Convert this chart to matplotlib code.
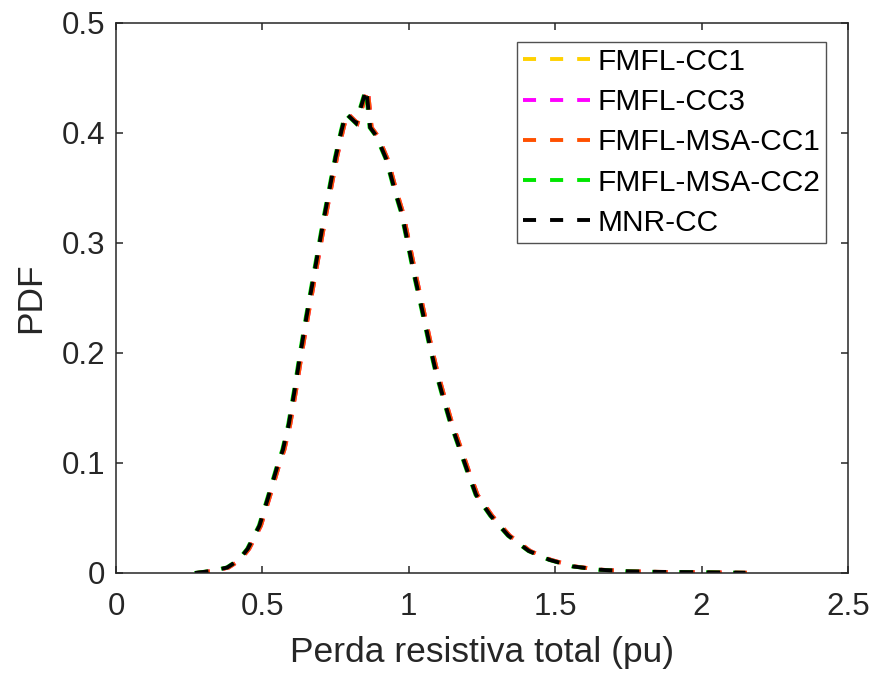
import matplotlib
matplotlib.use("Agg")
import matplotlib.pyplot as plt

plt.rcParams['font.family'] = ['Liberation Sans', 'DejaVu Sans']
plt.rcParams['lines.scale_dashes'] = False

# Total resistive loss (pu) at which each method's PDF was evaluated
perda_fmfl_cc1 = [0.275, 0.335, 0.385, 0.425, 0.455, 0.495, 0.525, 0.555, 0.575, 0.595,
                  0.615, 0.635, 0.655, 0.675, 0.695, 0.715, 0.735, 0.755, 0.775, 0.790,
                  0.825, 0.860, 0.873, 0.895, 0.930, 0.955, 0.980, 1.005, 1.025, 1.050,
                  1.075, 1.095, 1.120, 1.145, 1.175, 1.205, 1.235, 1.285, 1.345, 1.415,
                  1.485, 1.565, 1.655, 1.755, 1.855, 1.955, 2.055, 2.155]
perda_fmfl_cc3 = [0.275, 0.335, 0.385, 0.425, 0.455, 0.495, 0.525, 0.555, 0.575, 0.595,
                  0.615, 0.635, 0.655, 0.675, 0.695, 0.715, 0.735, 0.755, 0.775, 0.790,
                  0.825, 0.860, 0.873, 0.895, 0.930, 0.955, 0.980, 1.005, 1.025, 1.050,
                  1.075, 1.095, 1.120, 1.145, 1.175, 1.205, 1.235, 1.285, 1.345, 1.415,
                  1.485, 1.565, 1.655, 1.755, 1.855, 1.955, 2.055, 2.155]
perda_fmfl_msa_cc1 = [0.275, 0.335, 0.385, 0.425, 0.455, 0.495, 0.525, 0.555, 0.575, 0.595,
                      0.615, 0.635, 0.655, 0.675, 0.695, 0.715, 0.735, 0.755, 0.775, 0.790,
                      0.825, 0.860, 0.873, 0.895, 0.930, 0.955, 0.980, 1.005, 1.025, 1.050,
                      1.075, 1.095, 1.120, 1.145, 1.175, 1.205, 1.235, 1.285, 1.345, 1.415,
                      1.485, 1.565, 1.655, 1.755, 1.855, 1.955, 2.055, 2.155]
perda_fmfl_msa_cc2 = [0.268, 0.328, 0.378, 0.418, 0.448, 0.488, 0.518, 0.548, 0.568, 0.588,
                      0.608, 0.628, 0.648, 0.668, 0.688, 0.708, 0.728, 0.748, 0.768, 0.783,
                      0.818, 0.853, 0.866, 0.888, 0.923, 0.948, 0.973, 0.998, 1.018, 1.043,
                      1.068, 1.088, 1.113, 1.138, 1.168, 1.198, 1.228, 1.278, 1.338, 1.408,
                      1.478, 1.558, 1.648, 1.748, 1.848, 1.948, 2.048, 2.148]
perda_mnr_cc = [0.27, 0.33, 0.38, 0.42, 0.45, 0.49, 0.52, 0.55, 0.57, 0.59,
                0.61, 0.63, 0.65, 0.67, 0.69, 0.71, 0.73, 0.75, 0.77, 0.785,
                0.82, 0.855, 0.868, 0.89, 0.925, 0.95, 0.975, 1.00, 1.02, 1.045,
                1.07, 1.09, 1.115, 1.14, 1.17, 1.20, 1.23, 1.28, 1.34, 1.41,
                1.48, 1.56, 1.65, 1.75, 1.85, 1.95, 2.05, 2.15]

# Estimated PDF values
pdf_fmfl_cc1 = [0.000, 0.002, 0.005, 0.012, 0.022, 0.043, 0.069, 0.096, 0.112, 0.135,
                0.166, 0.200, 0.232, 0.262, 0.292, 0.322, 0.350, 0.378, 0.402, 0.418,
                0.409, 0.440, 0.405, 0.397, 0.375, 0.350, 0.328, 0.296, 0.270, 0.240,
                0.209, 0.186, 0.162, 0.139, 0.116, 0.093, 0.071, 0.052, 0.034, 0.020,
                0.012, 0.006, 0.003, 0.0015, 0.001, 0.0008, 0.0005, 0.0002]
pdf_fmfl_cc3 = [0.000, 0.002, 0.005, 0.012, 0.022, 0.043, 0.069, 0.096, 0.112, 0.135,
                0.166, 0.200, 0.232, 0.262, 0.292, 0.322, 0.350, 0.378, 0.402, 0.418,
                0.409, 0.440, 0.405, 0.397, 0.375, 0.350, 0.328, 0.296, 0.270, 0.240,
                0.209, 0.186, 0.162, 0.139, 0.116, 0.093, 0.071, 0.052, 0.034, 0.020,
                0.012, 0.006, 0.003, 0.0015, 0.001, 0.0008, 0.0005, 0.0002]
pdf_fmfl_msa_cc1 = [0.000, 0.002, 0.005, 0.012, 0.022, 0.043, 0.069, 0.096, 0.112, 0.135,
                    0.166, 0.200, 0.232, 0.262, 0.292, 0.322, 0.350, 0.378, 0.402, 0.418,
                    0.409, 0.440, 0.405, 0.397, 0.375, 0.350, 0.328, 0.296, 0.270, 0.240,
                    0.209, 0.186, 0.162, 0.139, 0.116, 0.093, 0.071, 0.052, 0.034, 0.020,
                    0.012, 0.006, 0.003, 0.0015, 0.001, 0.0008, 0.0005, 0.0002]
pdf_fmfl_msa_cc2 = [0.000, 0.002, 0.005, 0.012, 0.022, 0.043, 0.069, 0.096, 0.112, 0.135,
                    0.166, 0.200, 0.232, 0.262, 0.292, 0.322, 0.350, 0.378, 0.402, 0.418,
                    0.409, 0.440, 0.405, 0.397, 0.375, 0.350, 0.328, 0.296, 0.270, 0.240,
                    0.209, 0.186, 0.162, 0.139, 0.116, 0.093, 0.071, 0.052, 0.034, 0.020,
                    0.012, 0.006, 0.003, 0.0015, 0.001, 0.0008, 0.0005, 0.0002]
pdf_mnr_cc = [0.000, 0.002, 0.005, 0.012, 0.022, 0.043, 0.069, 0.096, 0.112, 0.135,
              0.166, 0.200, 0.232, 0.262, 0.292, 0.322, 0.350, 0.378, 0.402, 0.418,
              0.409, 0.440, 0.405, 0.397, 0.375, 0.350, 0.328, 0.296, 0.270, 0.240,
              0.209, 0.186, 0.162, 0.139, 0.116, 0.093, 0.071, 0.052, 0.034, 0.020,
              0.012, 0.006, 0.003, 0.0015, 0.001, 0.0008, 0.0005, 0.0002]

series_names = ['FMFL-CC1', 'FMFL-CC3', 'FMFL-MSA-CC1', 'FMFL-MSA-CC2', 'MNR-CC']
series_x = [perda_fmfl_cc1, perda_fmfl_cc3, perda_fmfl_msa_cc1, perda_fmfl_msa_cc2, perda_mnr_cc]
series_values = [pdf_fmfl_cc1, pdf_fmfl_cc3, pdf_fmfl_msa_cc1, pdf_fmfl_msa_cc2, pdf_mnr_cc]
series_colors = ['#FFD100', '#FF00FF', '#FF5000', '#00E600', '#000000']

x_ticks = [0, 0.5, 1, 1.5, 2, 2.5]
x_tick_labels = ['0', '0.5', '1', '1.5', '2', '2.5']
y_ticks = [0, 0.1, 0.2, 0.3, 0.4, 0.5]
y_tick_labels = ['0', '0.1', '0.2', '0.3', '0.4', '0.5']

ink = (0.15, 0.15, 0.15)
dpi = 100
fig = plt.figure(figsize=(8.73, 6.75), dpi=dpi)
ax = fig.add_axes([116 / 873, 1 - 573 / 675, 732 / 873, 550 / 675])

lw = 2.8
dash = (0, (9.7, 9.7))
for name, xs, vals, col in zip(series_names, series_x, series_values, series_colors):
    ax.plot(xs, vals, color=col, lw=lw, linestyle=dash,
            label=name, dash_capstyle='butt', dash_joinstyle='miter')

ax.set_xlim(0, 2.5)
ax.set_ylim(0, 0.5)
ax.set_xticks(x_ticks)
ax.set_xticklabels(x_tick_labels)
ax.set_yticks(y_ticks)
ax.set_yticklabels(y_tick_labels)

for s in ax.spines.values():
    s.set_color(ink)
    s.set_linewidth(1.1)
ax.tick_params(direction='in', length=5, width=1.1, color=ink, labelcolor=ink,
               labelsize=22.5, top=True, right=True)
ax.tick_params(axis='y', pad=8)
ax.tick_params(axis='x', pad=14)

ax.set_xlabel('Perda resistiva total (pu)', fontsize=25.5, color=ink, labelpad=10)
ax.set_ylabel('PDF', fontsize=25.5, color=ink, labelpad=10)

leg = ax.legend(loc='upper right', bbox_to_anchor=(0.970, 0.9655),
                bbox_transform=ax.transAxes, borderaxespad=0,
                fontsize=21.5, frameon=True, fancybox=False,
                handlelength=2.24, handletextpad=0.23, labelspacing=0.41,
                borderpad=0.2)
frame = leg.get_frame()
frame.set_edgecolor(ink)
frame.set_linewidth(1.0)
for line in leg.get_lines():
    line.set_linestyle((0, (9.4, 10.1)))
    line.set_linewidth(lw)
for t in leg.get_texts():
    t.set_color('black')

fig.savefig('out.png', dpi=dpi)
